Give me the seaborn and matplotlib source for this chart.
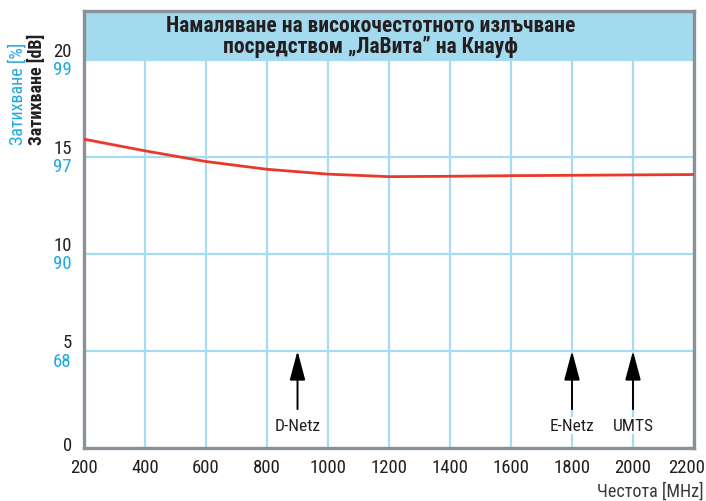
import matplotlib
matplotlib.use('Agg')
import matplotlib.pyplot as plt
import matplotlib.transforms as mtransforms
import seaborn as sns
import pandas as pd

# данни, отчетени от графиката
freq = [200, 400, 600, 800, 1000, 1200, 1400, 1600, 1800, 2000, 2200]
atten_db = [15.9, 15.3, 14.75, 14.35, 14.1, 13.97, 13.99, 14.02, 14.04, 14.06, 14.08]
db_ticks = [0, 5, 10, 15, 20]
pct_labels = ['', '68', '90', '97', '99']
net_names = ['D-Netz', 'E-Netz', 'UMTS']
net_freq = [900, 1800, 2000]

title = 'Намаляване на високочестотното излъчване\nпосредством „ЛаВита” на Кнауф'

sns.set_style('white')
plt.rcParams['font.family'] = ['Roboto Condensed', 'DejaVu Sans']

CYAN = '#1fa8df'
DARK = '#231f20'
FRAME = '#8a9198'
GRID = '#a6dcef'
HEAD = '#a3daee'

fig = plt.figure(figsize=(7.06, 5.02), dpi=100)
ax = fig.add_axes([0.119, 0.1056, 0.864, 0.8705])

df = pd.DataFrame({'f': freq, 'db': atten_db})
sns.lineplot(data=df, x='f', y='db', ax=ax, color='#e8392a', lw=2.0, zorder=3)

ax.set_xlim(200, 2200)
ax.set_ylim(0, 22.5)
ax.set_xticks(freq)
ax.set_yticks(db_ticks)
ax.set_yticklabels([])
ax.tick_params(axis='x', length=0, pad=7, labelsize=13.5, labelcolor=DARK)
ax.tick_params(axis='y', length=0)
ax.set_xlabel('')
ax.set_ylabel('')
ax.set_axisbelow(True)
ax.grid(True, color=GRID, lw=1.6)

# последният етикет леко наляво, за да не се реже
last = ax.get_xticklabels()[-1]
last.set_transform(last.get_transform() +
                   mtransforms.ScaledTranslation(-0.07, 0, fig.dpi_scale_trans))

# шапка със заглавието
ax.axhspan(20, 22.5, color=HEAD, zorder=1, lw=0)
ax.text(1140, 21.25, title, ha='center', va='center', fontsize=15.5,
        fontweight='bold', color=DARK, linespacing=0.95, zorder=4)

for s in ax.spines.values():
    s.set_color(FRAME)
    s.set_linewidth(2.4)

# етикети по оста Y: dB отгоре, % отдолу
ytr = ax.get_yaxis_transform()
for v, p in zip(db_ticks, pct_labels):
    dy = 0.45 if v > 0 else 0.15
    ax.text(-0.02, v + dy, str(v), transform=ytr, ha='right', va='center',
            fontsize=13.5, color=DARK, clip_on=False)
    if p:
        ax.text(-0.02, v - 0.5, p, transform=ytr, ha='right', va='center',
                fontsize=13.5, color=CYAN, clip_on=False)

# стрелки за мрежите
for name, f in zip(net_names, net_freq):
    ax.annotate('', xy=(f, 5), xytext=(f, 2),
                arrowprops=dict(arrowstyle='-|>,head_length=1.5,head_width=0.4',
                                color='black', lw=1.4, mutation_scale=12,
                                shrinkA=0, shrinkB=0), zorder=4)
    ax.text(f, 1.15, name, ha='center', va='center', fontsize=12.5,
            color=DARK, zorder=4,
            bbox=dict(fc='white', ec='none', pad=0.5))

fig.text(0.025, 0.711, 'Затихване [%]', rotation=90, rotation_mode='anchor',
         ha='left', va='center', fontsize=13, color=CYAN)
fig.text(0.053, 0.711, 'Затихване [dB]', rotation=90, rotation_mode='anchor',
         ha='left', va='center', fontsize=13, fontweight='bold', color=DARK)
fig.text(0.996, 0.02, 'Честота [MHz]', ha='right', va='center',
         fontsize=13, color='#3a3a3a')

fig.savefig('out.png', dpi=100)
